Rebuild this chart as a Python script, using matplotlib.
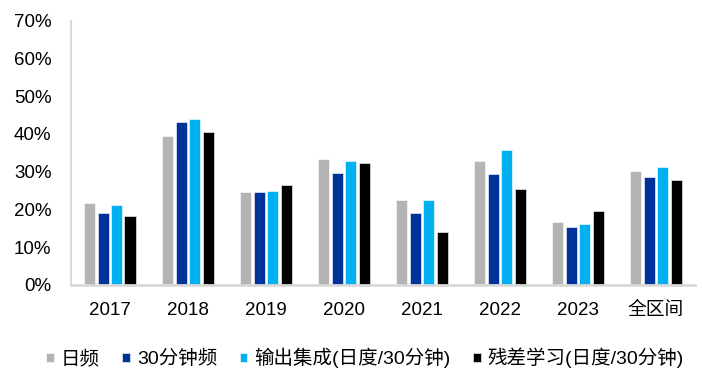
import matplotlib.pyplot as plt
import numpy as np

plt.rcParams['font.family'] = ['Liberation Sans', 'Noto Sans CJK SC']

categories = ['2017', '2018', '2019', '2020', '2021', '2022', '2023', '全区间']
series_names = ['日频', '30分钟频', '输出集成(日度/30分钟)', '残差学习(日度/30分钟)']
daily = [21.6, 39.4, 24.7, 33.4, 22.6, 32.8, 16.8, 30.3]
min30 = [19.0, 43.1, 24.5, 29.6, 19.1, 29.5, 15.4, 28.6]
ensemble = [21.2, 43.9, 25.0, 32.7, 22.6, 35.7, 16.1, 31.3]
residual = [18.2, 40.4, 26.6, 32.2, 14.1, 25.3, 19.5, 27.7]
colors = ['#B4B4B4', '#003399', '#00B0F0', '#000000']

fig = plt.figure(figsize=(7.02, 3.81), dpi=100)
ax = fig.add_axes([0.101, 0.252, 0.889, 0.694])

x = np.arange(len(categories))
step = 0.173
width = 0.145
all_series = [daily, min30, ensemble, residual]
for i, vals in enumerate(all_series):
    ax.bar(x + (i - 1.5) * step, vals, width=width, color=colors[i],
           label=series_names[i], edgecolor='white', linewidth=0.4)

ax.set_xlim(-0.5, len(categories) - 0.5)
ax.set_ylim(0, 70)
ax.set_yticks(range(0, 80, 10))
ax.set_yticklabels([f'{v}%' for v in range(0, 80, 10)], fontsize=13.5)
ax.set_xticks(x)
ax.set_xticklabels(categories, fontsize=13.5)
ax.tick_params(length=0)
ax.tick_params(axis='y', pad=14)
ax.tick_params(axis='x', pad=12)

for s in ['top', 'right']:
    ax.spines[s].set_visible(False)
ax.spines['left'].set_color('#D9D9D9')
ax.spines['left'].set_linewidth(1.5)
ax.spines['bottom'].set_color('#D9D9D9')
ax.spines['bottom'].set_linewidth(2)

fig.legend(loc='center', bbox_to_anchor=(0.52, 0.06), ncol=4, frameon=False,
           fontsize=14, handlelength=0.4, handleheight=0.4, handletextpad=0.35,
           columnspacing=1.15)

fig.savefig('out.png', dpi=100)
